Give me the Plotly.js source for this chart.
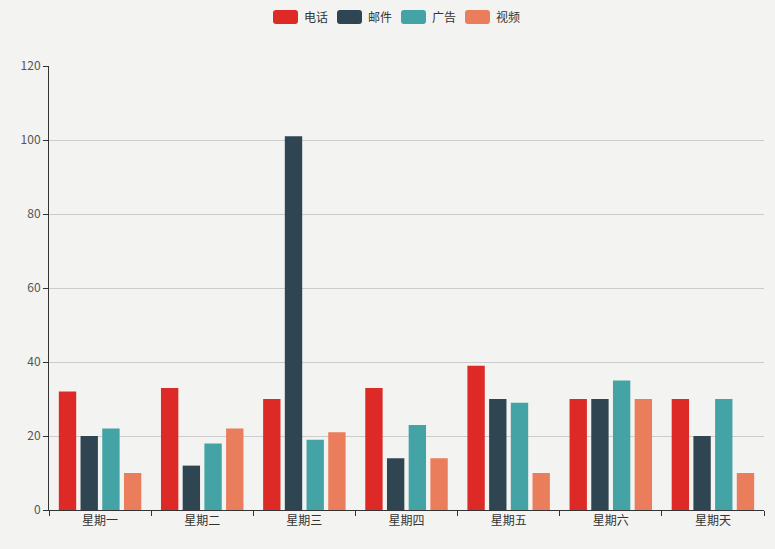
<!DOCTYPE html>
<html><head><meta charset="utf-8">
<script src="https://cdn.plot.ly/plotly-3.0.1.min.js"></script>
<style>html,body{margin:0;padding:0;background:#f3f3f1;}#chart{width:775px;height:549px;}</style>
</head><body><div id="chart"></div>
<script>
const categories = ['星期一','星期二','星期三','星期四','星期五','星期六','星期天'];
const seriesNames = ['电话','邮件','广告','视频'];
const phone = [32, 33, 30, 33, 39, 30, 30];
const mail = [20, 12, 101, 14, 30, 30, 20];
const ads = [22, 18, 19, 23, 29, 35, 30];
const video = [10, 22, 21, 14, 10, 30, 10];
const colors = ['#dd2a27', '#2f4652', '#43a3a5', '#ea7d5b'];
const yTicks = [0, 20, 40, 60, 80, 100, 120];

const values = [phone, mail, ads, video];
const traces = values.map((v, i) => ({
  type: 'bar', name: seriesNames[i], x: categories, y: v,
  marker: {color: colors[i]}, hoverinfo: 'x+y+name'
}));

// custom legend (rounded swatches) at top
const shapes = [];
const annotations = [];
const legendStartPx = 273, stepPx = 64, plotLeft = 49, plotW = 715;
seriesNames.forEach((n, i) => {
  const px = legendStartPx + i * stepPx;
  const ax = (px - plotLeft) / plotW;
  const w = 25, h = 14, r = 3;
  // pixel path relative to anchor (y upward)
  const p = `M ${r},0 L ${w-r},0 Q ${w},0 ${w},${r} L ${w},${h-r} Q ${w},${h} ${w-r},${h} L ${r},${h} Q 0,${h} 0,${h-r} L 0,${r} Q 0,0 ${r},0 Z`;
  shapes.push({type: 'path', xref: 'paper', yref: 'paper', xsizemode: 'pixel', ysizemode: 'pixel',
    xanchor: ax, yanchor: (510 - 24) / 444, path: p, fillcolor: colors[i], line: {width: 0}});
  annotations.push({xref: 'paper', yref: 'paper', x: (px + 29 - plotLeft) / plotW, y: (510 - 17) / 444,
    xanchor: 'left', yanchor: 'middle', text: n, showarrow: false,
    font: {size: 12, color: '#333', family: 'Noto Sans CJK SC, sans-serif'}});
});

const layout = {
  width: 775, height: 549,
  paper_bgcolor: '#f3f3f1', plot_bgcolor: '#f3f3f1',
  margin: {l: 49, r: 11, t: 66, b: 39},
  barmode: 'group', bargap: 0.15, bargroupgap: 0.2,
  showlegend: false,
  font: {family: 'Noto Sans CJK SC, sans-serif', size: 12, color: '#333'},
  xaxis: {
    type: 'category', tickson: 'boundaries', ticks: 'outside', ticklen: 5, tickcolor: '#333',
    showline: true, linecolor: '#333', linewidth: 1, showgrid: false,
    tickfont: {size: 12, color: '#333'}, fixedrange: true
  },
  yaxis: {
    range: [0, 120], tickvals: yTicks, ticktext: yTicks.map(String), ticks: 'outside', ticklen: 5, tickcolor: '#333',
    showline: true, linecolor: '#333', linewidth: 1, showgrid: true, gridcolor: '#cccccc', gridwidth: 1,
    zeroline: false, tickfont: {size: 12, color: '#555'}, fixedrange: true
  },
  shapes: shapes, annotations: annotations
};
Plotly.newPlot('chart', traces, layout, {displayModeBar: false, staticPlot: false});
</script></body></html>
